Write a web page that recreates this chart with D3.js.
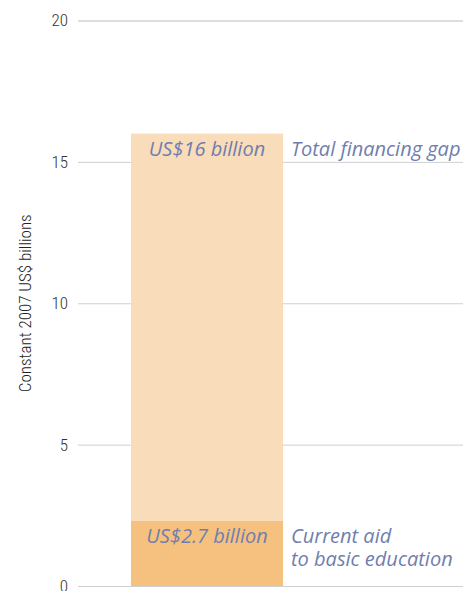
<!DOCTYPE html>
<html><head><meta charset="utf-8">
<script src="https://cdn.jsdelivr.net/npm/d3@7"></script>
<style>body{margin:0;background:#fff}</style>
</head><body>
<svg id="c" width="463" height="591"></svg>
<script>
const yTicks = [0, 5, 10, 15, 20];
const segments = ["aid", "gap"];
const segStart = [0, 2.3];
const segEnd = [2.3, 16];
const amountLabels = ["US$2.7 billion", "US$16 billion"];
const descLabels = [["Current aid", "to basic education"], ["Total financing gap"]];
const segColors = ["#f6c17f", "#f9dcb9"];

const svg = d3.select("#c");
const y = d3.scaleLinear().domain([0, 20]).range([586, 20.5]);
const x = d3.scaleBand().domain(["bar"]).range([131, 283]).padding(0);

const condensed = "'Roboto Condensed','DejaVu Sans Condensed','Liberation Sans Narrow',sans-serif";

// gridlines
const axis = d3.axisLeft(y).tickValues(yTicks).tickSize(-(463 - 78)).tickPadding(10);
const g = svg.append("g").attr("transform", "translate(78,0)").call(axis);
g.select(".domain").remove();
g.selectAll(".tick line").attr("stroke", d => d === 20 ? "#b9b9c6" : "#d0d0d0").attr("stroke-width", 1);
g.selectAll(".tick text").attr("fill", "#333").style("font-family", condensed)
  .style("font-weight", "300").style("font-size", "17px");

// bars
svg.selectAll("rect.seg").data(segments).join("rect")
  .attr("class", "seg")
  .attr("x", x("bar"))
  .attr("width", x.bandwidth())
  .attr("y", (d, i) => y(segEnd[i]))
  .attr("height", (d, i) => y(segStart[i]) - y(segEnd[i]))
  .attr("fill", (d, i) => segColors[i]);

const textFont = "'Open Sans','Noto Sans',sans-serif";
const txtColor = "#6f7eae";

// amount labels
svg.selectAll("text.amt").data(segments).join("text")
  .attr("class", "amt")
  .attr("x", x("bar") + x.bandwidth() / 2)
  .attr("y", (d, i) => y(segEnd[i]) + 22)
  .attr("text-anchor", "middle")
  .attr("fill", txtColor)
  .style("font-family", textFont).style("font-style", "italic").style("font-size", "20px")
  .text((d, i) => amountLabels[i]);

// descriptions
segments.forEach((d, i) => {
  const t = svg.append("text")
    .attr("x", 291)
    .attr("y", y(segEnd[i]) + 22)
    .attr("fill", txtColor)
    .style("font-family", textFont).style("font-style", "italic").style("font-size", "20px");
  descLabels[i].forEach((line, j) => {
    t.append("tspan").attr("x", 291).attr("dy", j === 0 ? 0 : 23).text(line);
  });
});

// axis title
svg.append("text")
  .attr("transform", `translate(31,${y(10)}) rotate(-90)`)
  .attr("text-anchor", "middle")
  .attr("fill", "#222")
  .style("font-family", condensed).style("font-weight", "300").style("font-size", "17px")
  .text("Constant 2007 US$ billions");
</script>
</body></html>
